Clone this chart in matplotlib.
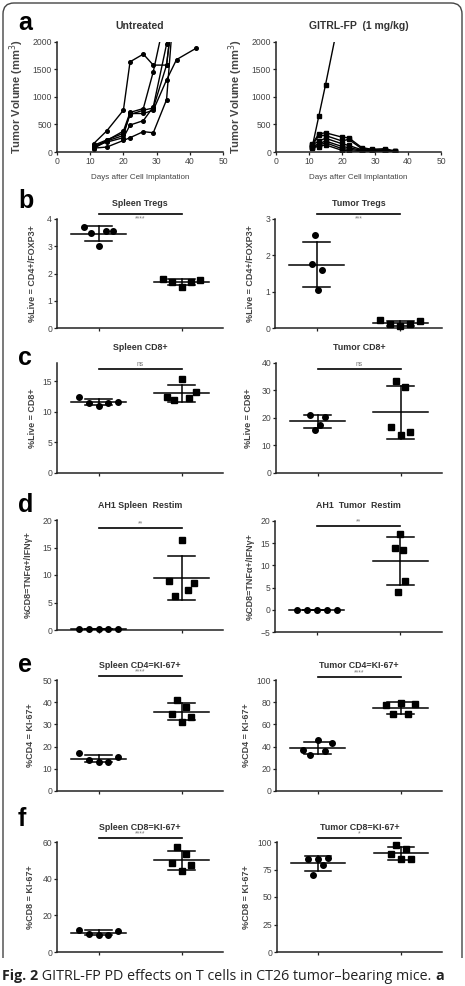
import matplotlib
matplotlib.use('Agg')
import matplotlib.pyplot as plt
import matplotlib.transforms as mtransforms
from matplotlib.path import Path
from matplotlib.patches import PathPatch
import numpy as np

plt.rcParams['font.family'] = ['Liberation Sans', 'DejaVu Sans']

W, H = 465, 986

# ---- panel a: tumour growth per mouse (days, volume mm3)
untreated_days = [
    [11, 15, 20, 22, 26, 29, 33, 35],
    [11, 15, 20, 22, 26, 29, 32],
    [11, 15, 20, 22, 26, 29, 33, 36, 42],
    [11, 15, 20, 22, 26, 29, 33, 34],
    [11, 15, 20, 22, 26, 29, 33, 35],
    [11, 15, 20, 22, 26, 29, 33, 35],
]
untreated_vol = [
    [150, 385, 760, 1640, 1780, 1580, 1580, 2600],
    [90, 210, 380, 720, 790, 1460, 2300],
    [60, 200, 300, 700, 700, 760, 1310, 1680, 1890],
    [100, 180, 260, 490, 570, 820, 1960, 2500],
    [70, 90, 210, 260, 370, 350, 950, 2500],
    [120, 220, 340, 680, 760, 800, 1580, 2600],
]
gitrl_days = [
    [11, 13, 15, 19],
    [11, 13, 15, 20, 22, 26, 29, 33, 36],
    [11, 13, 15, 20, 22, 26, 29, 33, 36],
    [11, 13, 15, 20, 22, 26, 29, 33, 36],
    [11, 13, 15, 20, 22, 26, 29, 33, 36],
    [11, 13, 15, 20, 22, 26, 29, 33, 36],
    [11, 13, 15, 20, 22, 26],
]
gitrl_vol = [
    [100, 660, 1220, 2400],
    [150, 330, 350, 270, 260, 80, 50, 60, 20],
    [120, 300, 300, 200, 230, 60, 40, 40, 10],
    [130, 200, 250, 150, 120, 40, 30, 30, 10],
    [100, 150, 200, 100, 80, 30, 20, 20, 5],
    [90, 120, 170, 60, 50, 20, 10, 15, 0],
    [80, 100, 130, 30, 20, 10],
]

# ---- panels b-f: untreated (circles) vs GITRL-FP (squares)
spleen_treg = ([3.70, 3.50, 3.00, 3.55, 3.55], [1.80, 1.70, 1.50, 1.70, 1.75])
tumor_treg = ([1.77, 2.55, 1.05, 1.60], [0.22, 0.10, 0.05, 0.10, 0.18])
spleen_cd8 = ([12.5, 11.5, 11.0, 11.5, 11.6], [12.5, 11.9, 15.4, 12.3, 13.3])
tumor_cd8 = ([21.2, 15.8, 17.6, 20.4], [16.7, 33.6, 13.9, 31.3, 14.9])
spleen_restim = ([0.2, 0.2, 0.2, 0.2, 0.2], [9.0, 6.1, 16.4, 7.3, 8.6])
tumor_restim = ([0.0, 0.0, 0.0, 0.0, 0.0], [13.9, 4.1, 17.1, 13.5, 6.4])
spleen_cd4_ki67 = ([16.9, 13.9, 13.2, 13.2, 15.2], [34.6, 41.0, 31.3, 38.0, 33.3])
tumor_cd4_ki67 = ([36.7, 32.8, 45.8, 36.1, 42.8], [77.4, 69.0, 79.5, 69.0, 78.0])
spleen_cd8_ki67 = ([12.2, 10.0, 9.1, 9.5, 11.5], [48.7, 57.3, 44.0, 53.3, 47.3])
tumor_cd8_ki67 = ([84.8, 69.7, 84.2, 78.8, 85.5], [89.4, 97.6, 84.2, 94.0, 84.2])

fig = plt.figure(figsize=(W / 100, H / 100), dpi=100)


def px_axes(left, top, right, bottom):
    return fig.add_axes([left / W, 1 - bottom / H, (right - left) / W, (bottom - top) / H])


def style(ax):
    for s in ('top', 'right'):
        ax.spines[s].set_visible(False)
    for s in ('left', 'bottom'):
        ax.spines[s].set_linewidth(1.1)
        ax.spines[s].set_color('#222222')
    ax.tick_params(length=2.5, width=0.9, labelsize=6.2, colors='#222222',
                   labelcolor='#444444', pad=1)


# ---- panel a
for box, days, vols, marker, title, lab_x in [
        ((57, 42, 223, 152), untreated_days, untreated_vol, 'o', 'Untreated', 26),
        ((276, 42, 441, 152), gitrl_days, gitrl_vol, 's', 'GITRL-FP  (1 mg/kg)', 245)]:
    ax = px_axes(*box)
    style(ax)
    for d, v in zip(days, vols):
        ax.plot(d, v, '-', marker=marker, color='black', lw=1.0, ms=2.6)
    ax.set_xlim(0, 50)
    ax.set_ylim(0, 2000)
    ax.set_xticks([0, 10, 20, 30, 40, 50])
    ax.set_yticks([0, 500, 1000, 1500, 2000])
    ax.set_title(title, fontsize=7.5, fontweight='bold', color='#333333', pad=9)
    ax.set_ylabel('Tumor Volume (mm$^3$)', fontsize=8, fontweight='bold', color='#444444')
    ax.yaxis.set_label_coords((lab_x - box[0]) / (box[2] - box[0]), 0.5)
    ax.set_xlabel('Days after Cell Implantation', fontsize=5.8, color='#444444', labelpad=6)

# ---- dot plot panels
panels = [
    dict(box=(57, 219, 223, 328), data=spleen_treg, ylim=(0, 4), yticks=[0, 1, 2, 3, 4],
         title='Spleen Tregs', ylabel='%Live = CD4+/FOXP3+', stars='****', bar=214,
         spread=(0.18, 0.22), lab_x=37, stars_below=True),
    dict(box=(275, 219, 442, 328), data=tumor_treg, ylim=(0, 3), yticks=[0, 1, 2, 3],
         title='Tumor Tregs', ylabel='%Live = CD4+/FOXP3+', stars='***', bar=214,
         spread=(0.06, 0.24), lab_x=255, stars_below=True),
    dict(box=(57, 363, 223, 473), data=spleen_cd8, ylim=(0, 18), yticks=[0, 5, 10, 15],
         title='Spleen CD8+', ylabel='%Live = CD8+', stars='ns', bar=369,
         spread=(0.24, 0.18), lab_x=37),
    dict(box=(276, 363, 442, 473), data=tumor_cd8, ylim=(0, 40), yticks=[0, 10, 20, 30, 40],
         title='Tumor CD8+', ylabel='%Live = CD8+', stars='ns', bar=369,
         spread=(0.09, 0.12), lab_x=253),
    dict(box=(57, 520, 223, 630), data=spleen_restim, ylim=(0, 20), yticks=[0, 5, 10, 15, 20],
         title='AH1 Spleen  Restim', ylabel='%CD8=TNFα+/IFNγ+', stars='**', bar=528,
         spread=(0.24, 0.15), lab_x=33),
    dict(box=(275, 521, 442, 632), data=tumor_restim, ylim=(-5, 20), yticks=[-5, 0, 5, 10, 15, 20],
         title='AH1  Tumor  Restim', ylabel='%CD8=TNFα+/IFNγ+', stars='**', bar=526,
         spread=(0.24, 0.06), lab_x=255),
    dict(box=(57, 680, 223, 791), data=spleen_cd4_ki67, ylim=(0, 50), yticks=[0, 10, 20, 30, 40, 50],
         title='Spleen CD4=KI-67+', ylabel='%CD4 = KI-67+', stars='****', bar=676,
         spread=(0.24, 0.12), lab_x=35),
    dict(box=(276, 680, 442, 791), data=tumor_cd4_ki67, ylim=(0, 100), yticks=[0, 20, 40, 60, 80, 100],
         title='Tumor CD4=KI-67+', ylabel='%CD4 = KI-67+', stars='****', bar=677,
         spread=(0.18, 0.18), lab_x=251),
    dict(box=(57, 842, 223, 952), data=spleen_cd8_ki67, ylim=(0, 60), yticks=[0, 20, 40, 60],
         title='Spleen CD8=KI-67+', ylabel='%CD8 = KI-67+', stars='****', bar=838,
         spread=(0.24, 0.12), lab_x=35),
    dict(box=(277, 842, 442, 952), data=tumor_cd8_ki67, ylim=(0, 100), yticks=[0, 25, 50, 75, 100],
         title='Tumor CD8=KI-67+', ylabel='%CD8 = KI-67+', stars='*', bar=838,
         spread=(0.12, 0.12), lab_x=251),
]

for p in panels:
    l, t, r, b = p['box']
    ax = px_axes(l, t, r, b)
    style(ax)
    for i, (vals, marker, sp) in enumerate(zip(p['data'], ('o', 's'), p['spread'])):
        vals = np.asarray(vals, dtype=float)
        xs = i + np.linspace(-sp, sp, len(vals))
        ax.plot(xs, vals, marker, color='black', ms=4.0, ls='none', clip_on=False, zorder=3)
        m, sd = vals.mean(), vals.std(ddof=1)
        ax.plot([i - 0.33, i + 0.33], [m, m], color='black', lw=1.1, zorder=4)
        ax.plot([i, i], [m - sd, m + sd], color='black', lw=1.1, zorder=4)
        for y in (m - sd, m + sd):
            ax.plot([i - 0.16, i + 0.16], [y, y], color='black', lw=1.1, zorder=4)
    ax.set_xlim(-0.5, 1.5)
    ax.set_ylim(*p['ylim'])
    ax.set_yticks(p['yticks'])
    ax.set_xticks([0, 1])
    ax.set_xticklabels(['', ''])
    ax.set_title(p['title'], fontsize=6.4, fontweight='bold', color='#333333', pad=9)
    ax.set_ylabel(p['ylabel'], fontsize=6.5, fontweight='bold', color='#444444')
    ax.yaxis.set_label_coords((p['lab_x'] - l) / (r - l), 0.5)
    # significance bar
    bar_frac = (b - p['bar']) / (b - t)
    trans = mtransforms.blended_transform_factory(ax.transData, ax.transAxes)
    ax.plot([0, 1], [bar_frac, bar_frac], color='black', lw=1.2, transform=trans, clip_on=False)
    if p.get('stars_below'):
        ax.text(0.5, bar_frac - 0.012, p['stars'], transform=trans, ha='center', va='top',
                fontsize=4.8, color='#777777')
    else:
        ax.text(0.5, bar_frac + 0.008, p['stars'], transform=trans, ha='center', va='bottom',
                fontsize=4.8, color='#777777')

# ---- panel letters
for letter, x, y in [('a', 18, 30), ('b', 18, 208), ('c', 18, 365),
                     ('d', 18, 512), ('e', 18, 672), ('f', 18, 826)]:
    fig.text(x / W, 1 - y / H, letter, fontsize=18, fontweight='bold', color='black',
             ha='left', va='baseline')

# ---- frame with rounded top corners
r = 11
verts = [(3, 958), (3, 3 + r), (3, 3), (3 + r, 3), (462 - r, 3), (462, 3), (462, 3 + r), (462, 958)]
codes = [Path.MOVETO, Path.LINETO, Path.CURVE3, Path.CURVE3, Path.LINETO,
         Path.CURVE3, Path.CURVE3, Path.LINETO]
verts = [(x / W, 1 - y / H) for x, y in verts]
fig.add_artist(PathPatch(Path(verts, codes), transform=fig.transFigure, fill=False,
                         edgecolor='#444444', lw=1.0))

# ---- caption
renderer = fig.canvas.get_renderer()
x = 2 / W
for txt, weight in [('Fig. 2', 'bold'), (' GITRL-FP PD effects on T cells in CT26 tumor–bearing mice. ', 'normal'),
                    ('a', 'bold')]:
    t = fig.text(x, 1 - 980 / H, txt, fontsize=10.3, fontweight=weight, family=['Open Sans', 'DejaVu Sans'],
                 color='#222222', ha='left', va='baseline')
    bb = t.get_window_extent(renderer=renderer)
    x += bb.width / W

fig.savefig('out.png', dpi=100)
